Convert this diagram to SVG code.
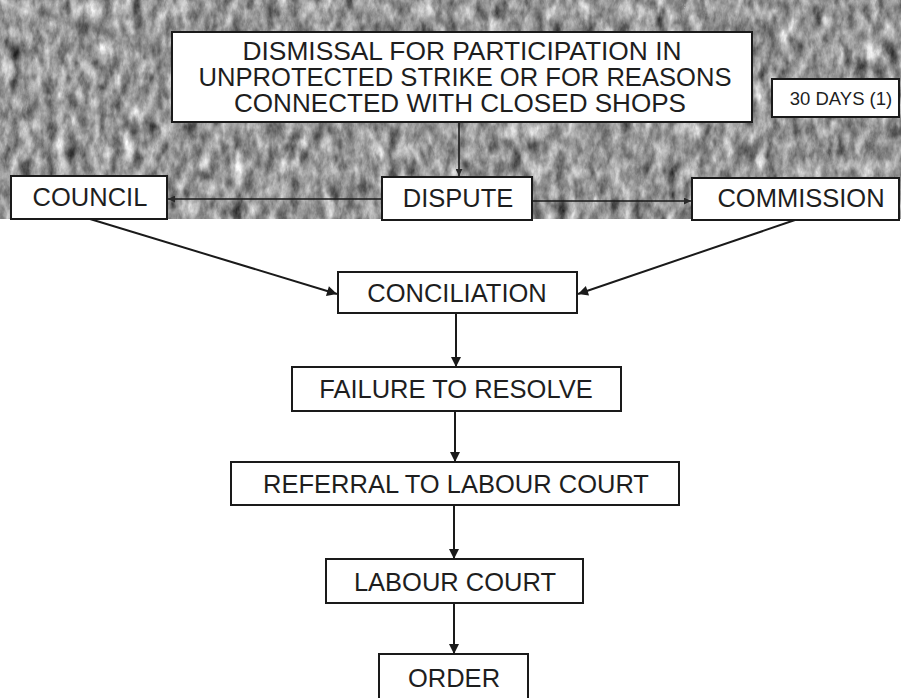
<svg xmlns="http://www.w3.org/2000/svg" width="901" height="698" viewBox="0 0 901 698">
<style>
  .box { fill: #ffffff; stroke: #1a1a1a; stroke-width: 2; }
  .lbl { font-family: "Liberation Sans", Arial, sans-serif; font-size: 25.5px; fill: #1e1e1e; text-anchor: middle; }
  .top { font-family: "Liberation Sans", Arial, sans-serif; font-size: 25px; fill: #1e1e1e; text-anchor: middle; }
  .small { font-family: "Liberation Sans", Arial, sans-serif; font-size: 18.5px; fill: #1e1e1e; text-anchor: middle; }
  .con { fill: none; stroke: #1a1a1a; stroke-width: 2; }
  .thin { fill: none; stroke: #1a1a1a; stroke-width: 1.6; }
</style>
<defs>
  <marker id="arr" viewBox="0 0 10 10" refX="10" refY="5" markerUnits="userSpaceOnUse" markerWidth="13" markerHeight="10" orient="auto">
    <path d="M0,0 L10,5 L0,10 z" fill="#1a1a1a"/>
  </marker>
  <marker id="arrs" viewBox="0 0 10 10" refX="10" refY="5" markerUnits="userSpaceOnUse" markerWidth="8" markerHeight="7" orient="auto">
    <path d="M0,0 L10,5 L0,10 z" fill="#2a2a2a"/>
  </marker>
  <filter id="grain" x="0" y="0" width="1" height="1" color-interpolation-filters="sRGB">
    <feTurbulence type="fractalNoise" baseFrequency="0.09 0.05" numOctaves="4" seed="7" result="n"/>
    <feColorMatrix in="n" type="matrix" values="0.55 0.55 0.55 0 -0.24  0.55 0.55 0.55 0 -0.24  0.55 0.55 0.55 0 -0.24  0 0 0 0 1"/>
  </filter>
</defs>

<g id="background">
  <rect x="0" y="0" width="901" height="219" fill="#9c9c9c" filter="url(#grain)"/>
</g>

<g id="connectors">
  <line class="thin" x1="459" y1="122" x2="459" y2="176" marker-end="url(#arrs)"/>
  <line class="thin" x1="382" y1="199" x2="168" y2="199" marker-end="url(#arrs)"/>
  <line class="thin" x1="532" y1="201" x2="691" y2="201" marker-end="url(#arrs)"/>
  <line class="con" x1="90" y1="219" x2="337" y2="294" marker-end="url(#arr)"/>
  <line class="con" x1="795" y1="220" x2="578" y2="294" marker-end="url(#arr)"/>
  <line class="con" x1="456" y1="313" x2="456" y2="367" marker-end="url(#arr)"/>
  <line class="con" x1="455" y1="411" x2="455" y2="462" marker-end="url(#arr)"/>
  <line class="con" x1="454" y1="505" x2="454" y2="559" marker-end="url(#arr)"/>
  <line class="con" x1="454" y1="603" x2="454" y2="654" marker-end="url(#arr)"/>
</g>

<g id="dismissal">
  <rect class="box" x="172" y="32" width="580" height="90"/>
  <text class="top"><tspan x="462" y="60" textLength="439" lengthAdjust="spacingAndGlyphs">DISMISSAL FOR PARTICIPATION IN</tspan><tspan x="465" y="86" textLength="533" lengthAdjust="spacingAndGlyphs">UNPROTECTED STRIKE OR FOR REASONS</tspan><tspan x="460" y="112" textLength="452" lengthAdjust="spacingAndGlyphs">CONNECTED WITH CLOSED SHOPS</tspan></text>
</g>

<g id="days30">
  <rect class="box" x="772" y="79" width="127" height="38"/>
  <text class="small" x="841" y="105">30 DAYS (1)</text>
</g>

<g id="council">
  <rect class="box" x="11" y="176" width="156" height="43"/>
  <text class="lbl" x="90" y="206">COUNCIL</text>
</g>

<g id="dispute">
  <rect class="box" x="382" y="177" width="150" height="43"/>
  <text class="lbl" x="458" y="207">DISPUTE</text>
</g>

<g id="commission">
  <rect class="box" x="692" y="178" width="207" height="42"/>
  <text class="lbl" x="801" y="207">COMMISSION</text>
</g>

<g id="conciliation">
  <rect class="box" x="338" y="272" width="239" height="41"/>
  <text class="lbl" x="457" y="302">CONCILIATION</text>
</g>

<g id="failure">
  <rect class="box" x="292" y="367" width="329" height="44"/>
  <text class="lbl" x="456" y="398">FAILURE TO RESOLVE</text>
</g>

<g id="referral">
  <rect class="box" x="231" y="462" width="448" height="43"/>
  <text class="lbl" x="456" y="493">REFERRAL TO LABOUR COURT</text>
</g>

<g id="labour-court">
  <rect class="box" x="326" y="559" width="257" height="44"/>
  <text class="lbl" x="455" y="591">LABOUR COURT</text>
</g>

<g id="order">
  <rect class="box" x="379" y="654" width="149" height="50"/>
  <text class="lbl" x="454" y="687">ORDER</text>
</g>
</svg>
